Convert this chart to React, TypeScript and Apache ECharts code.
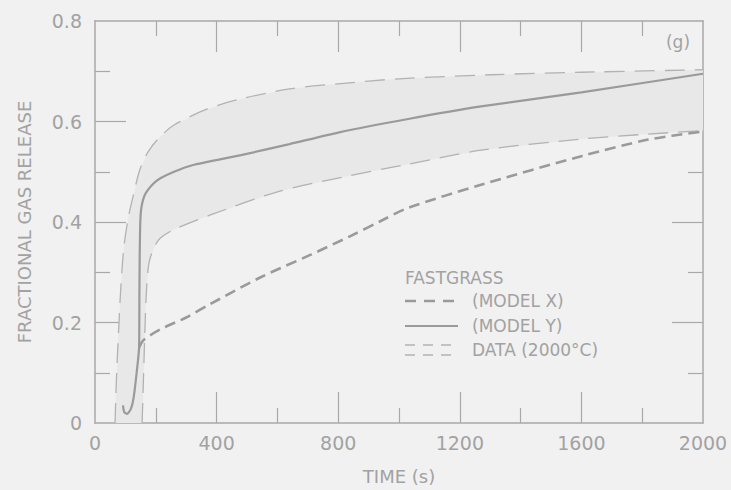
import React, { useEffect, useRef } from "react";
import * as echarts from "echarts";

// ---- data ----
const xTickValues = [0, 400, 800, 1200, 1600, 2000];
const yTickValues = [0, 0.2, 0.4, 0.6, 0.8];

// small hook at the start shared by both model curves
const hookT = [92, 96, 105, 118, 127, 137, 145];
const hookV = [0.035, 0.022, 0.018, 0.028, 0.05, 0.1, 0.15];

// FASTGRASS model Y (solid)
const modelYT = [146, 147, 149, 153, 165, 190, 215, 260, 320, 480, 640, 800, 1030, 1270, 1600, 2000];
const modelYV = [0.25, 0.33, 0.4, 0.43, 0.455, 0.475, 0.487, 0.5, 0.513, 0.533, 0.555, 0.578, 0.605, 0.63, 0.658, 0.695];

// FASTGRASS model X (heavy short dashes)
const modelXT = [160, 214, 300, 380, 545, 710, 840, 940, 1030, 1270, 1600, 1820, 2000];
const modelXV = [0.165, 0.186, 0.21, 0.237, 0.29, 0.335, 0.372, 0.402, 0.428, 0.474, 0.531, 0.564, 0.58];

// Data band (2000 C): upper bound
const upperT = [66, 70, 75, 85, 95, 110, 125, 148, 175, 210, 260, 370, 480, 640, 800, 1000, 1300, 1600, 2000];
const upperV = [0, 0.08, 0.15, 0.27, 0.35, 0.41, 0.45, 0.505, 0.54, 0.567, 0.593, 0.625, 0.645, 0.665, 0.675, 0.685, 0.693, 0.698, 0.703];

// Data band: lower bound
const lowerT = [155, 160, 165, 170, 178, 195, 215, 260, 380, 600, 820, 1030, 1270, 1600, 1820, 2000];
const lowerV = [0, 0.1, 0.2, 0.27, 0.32, 0.35, 0.368, 0.385, 0.414, 0.46, 0.49, 0.515, 0.543, 0.565, 0.575, 0.582];

const legendTitle = "FASTGRASS";
const legendLabels = ["(MODEL X)", "(MODEL Y)", "DATA (2000°C)"];
const panelLabel = "(g)";
const xName = "TIME (s)";
const yName = "FRACTIONAL GAS RELEASE";

const FONT = "DejaVu Sans";
const axisColor = "#a8a8a8";
const textColor = "#a2a2a2";
const lineColor = "#9a9a9a";
const bandLineColor = "#b2b2b2";

const zip = (t: number[], v: number[]) => t.map((x, i) => [x, v[i]]);

export default function App() {
  const ref = useRef<HTMLDivElement>(null);

  useEffect(() => {
    if (!ref.current) return;
    const chart = echarts.init(ref.current, undefined, { renderer: "svg" });

    const xMin = xTickValues[0];
    const xMax = xTickValues[xTickValues.length - 1];
    const xStep = xTickValues[1] - xTickValues[0];
    const yMin = yTickValues[0];
    const yMax = yTickValues[yTickValues.length - 1];
    const yStep = yTickValues[1] - yTickValues[0];

    // short (half-step) ticks: minor ticks of the labelled step
    const shortTicks = () => ({
      axisLine: { show: true, onZero: false, lineStyle: { color: axisColor, width: 1.5 } },
      axisTick: { show: false, inside: true },
      minorTick: { show: true, splitNumber: 2, length: 15, lineStyle: { color: axisColor, width: 1.2 } },
      splitLine: { show: false },
      minorSplitLine: { show: false },
    });
    // long ticks at every labelled step, drawn as minor ticks of a full-range axis
    const longTicks = (splits: number) => ({
      axisLine: { show: false, onZero: false },
      axisTick: { show: false, inside: true },
      axisLabel: { show: false },
      minorTick: { show: true, splitNumber: splits, length: 31, lineStyle: { color: axisColor, width: 1.2 } },
      splitLine: { show: false },
      minorSplitLine: { show: false },
    });

    const fmt = (v: number) => String(v);
    const xSplits = xTickValues.length - 1;
    const ySplits = yTickValues.length - 1;

    const option: any = {
      animation: false,
      backgroundColor: "#f1f1f1",
      grid: { left: 95, right: 28, top: 21, bottom: 62 },
      xAxis: [
        {
          type: "value", min: xMin, max: xMax, interval: xStep, position: "bottom",
          ...shortTicks(),
          axisLabel: { color: textColor, fontSize: 19, fontFamily: FONT, margin: 10, formatter: fmt },
          name: xName, nameLocation: "middle", nameGap: 44,
          nameTextStyle: { color: textColor, fontSize: 18, fontFamily: FONT },
        },
        {
          type: "value", min: xMin, max: xMax, interval: xStep, position: "top",
          ...shortTicks(), axisLabel: { show: false },
        },
        { type: "value", min: xMin, max: xMax, interval: xMax - xMin, position: "bottom", ...longTicks(xSplits) },
        { type: "value", min: xMin, max: xMax, interval: xMax - xMin, position: "top", ...longTicks(xSplits) },
      ],
      yAxis: [
        {
          type: "value", min: yMin, max: yMax, interval: yStep, position: "left",
          ...shortTicks(),
          axisLabel: { color: textColor, fontSize: 19, fontFamily: FONT, margin: 13, formatter: fmt },
          name: yName, nameLocation: "middle", nameGap: 62,
          nameTextStyle: { color: textColor, fontSize: 18, fontFamily: FONT },
        },
        {
          type: "value", min: yMin, max: yMax, interval: yStep, position: "right",
          ...shortTicks(), axisLabel: { show: false },
        },
        { type: "value", min: yMin, max: yMax, interval: yMax - yMin, position: "left", ...longTicks(ySplits) },
        { type: "value", min: yMin, max: yMax, interval: yMax - yMin, position: "right", ...longTicks(ySplits) },
      ],
      series: [
        {
          type: "custom",
          name: "band",
          xAxisIndex: 0,
          yAxisIndex: 0,
          z: 1,
          silent: true,
          data: [[0, 0]],
          renderItem: (_params: any, api: any) => {
            const pts: number[][] = [];
            for (let i = 0; i < upperT.length; i++) pts.push(api.coord([upperT[i], upperV[i]]));
            for (let i = lowerT.length - 1; i >= 0; i--) pts.push(api.coord([lowerT[i], lowerV[i]]));
            return {
              type: "polygon",
              shape: { points: pts },
              style: { fill: "#e8e8e8", stroke: "none" },
            };
          },
        },
        {
          type: "line", name: "DATA upper", xAxisIndex: 0, yAxisIndex: 0,
          data: zip(upperT, upperV), smooth: 0.3, symbol: "none", z: 2,
          lineStyle: { color: bandLineColor, width: 1.3, type: [20, 10] },
        },
        {
          type: "line", name: "DATA lower", xAxisIndex: 0, yAxisIndex: 0,
          data: zip(lowerT, lowerV), smooth: 0.3, symbol: "none", z: 2,
          lineStyle: { color: bandLineColor, width: 1.3, type: [20, 10] },
        },
        {
          type: "line", name: "(MODEL Y)", xAxisIndex: 0, yAxisIndex: 0,
          data: zip(hookT.concat(modelYT), hookV.concat(modelYV)), smooth: 0.2, symbol: "none", z: 3,
          lineStyle: { color: lineColor, width: 2.2, type: "solid" },
        },
        {
          type: "line", name: "(MODEL X)", xAxisIndex: 0, yAxisIndex: 0,
          data: zip([hookT[hookT.length - 1]].concat(modelXT), [hookV[hookV.length - 1]].concat(modelXV)),
          smooth: 0.3, symbol: "none", z: 3,
          lineStyle: { color: lineColor, width: 2.6, type: [11, 6] },
        },
      ],
      graphic: [
        {
          type: "text", x: 678, y: 42,
          style: { text: panelLabel, fill: textColor, fontSize: 17, fontFamily: FONT, align: "center", verticalAlign: "middle" },
        },
        {
          type: "text", x: 405, y: 278,
          style: { text: legendTitle, fill: textColor, fontSize: 17, fontFamily: FONT, verticalAlign: "middle" },
        },
        {
          type: "line", shape: { x1: 405, y1: 301, x2: 458, y2: 301 },
          style: { stroke: lineColor, lineWidth: 2.4, lineDash: [11, 8] },
        },
        {
          type: "text", x: 472, y: 301,
          style: { text: legendLabels[0], fill: textColor, fontSize: 17, fontFamily: FONT, verticalAlign: "middle" },
        },
        {
          type: "line", shape: { x1: 405, y1: 326, x2: 458, y2: 326 },
          style: { stroke: lineColor, lineWidth: 2.2 },
        },
        {
          type: "text", x: 472, y: 326,
          style: { text: legendLabels[1], fill: textColor, fontSize: 17, fontFamily: FONT, verticalAlign: "middle" },
        },
        {
          type: "line", shape: { x1: 405, y1: 345, x2: 458, y2: 345 },
          style: { stroke: bandLineColor, lineWidth: 1.5, lineDash: [10, 8] },
        },
        {
          type: "line", shape: { x1: 405, y1: 355, x2: 458, y2: 355 },
          style: { stroke: bandLineColor, lineWidth: 1.5, lineDash: [10, 8] },
        },
        {
          type: "text", x: 472, y: 350,
          style: { text: legendLabels[2], fill: textColor, fontSize: 17, fontFamily: FONT, verticalAlign: "middle" },
        },
      ],
    };

    chart.setOption(option);
    return () => chart.dispose();
  }, []);

  return (
    <div
      ref={ref}
      style={{ position: "fixed", left: 0, top: 0, width: 731, height: 490 }}
    />
  );
}
